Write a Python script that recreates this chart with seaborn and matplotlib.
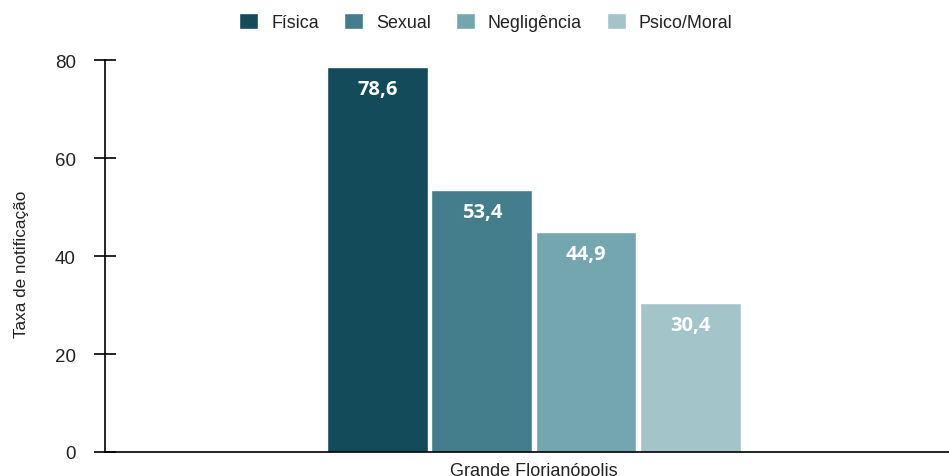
import matplotlib
matplotlib.use("Agg")
import matplotlib.pyplot as plt
import seaborn as sns
import pandas as pd

regions = ["Grande Florianópolis"]
categories = ["Física", "Sexual", "Negligência", "Psico/Moral"]
values = [78.6, 53.4, 44.9, 30.4]
labels = ["78,6", "53,4", "44,9", "30,4"]
colors = ["#134B5A", "#447D8B", "#73A6AF", "#A3C5C9"]

df = pd.DataFrame({"regiao": regions * len(categories), "tipo": categories, "taxa": values})

sns.set_theme(style="white")
plt.rcParams["font.family"] = ["Liberation Sans", "DejaVu Sans"]

fig = plt.figure(figsize=(9.49, 4.77), dpi=100)
ax = fig.add_axes([105 / 949, 1 - 453 / 477, (949 - 105) / 949, (453 - 61) / 477])

sns.barplot(data=df, x="regiao", y="taxa", hue="tipo", hue_order=categories,
            palette=colors, ax=ax, width=0.81, gap=0.035, saturation=1, legend=True)

for cont, lab in zip(ax.containers, labels):
    ax.bar_label(cont, labels=[lab], label_type="edge", padding=-23, color="white",
                 fontsize=14.5, fontweight="bold", family=["Open Sans", "DejaVu Sans"])

ax.set_ylim(0, 80)
ax.set_xlim(-0.833, 0.806)
ax.set_yticks([0, 20, 40, 60, 80])
ax.set_xlabel("")
ax.set_ylabel("Taxa de notificação", fontsize=12.3, color="#222222")
ax.yaxis.set_label_coords(-0.09, 0.48)
ax.tick_params(axis="y", left=True, direction="inout", length=16, width=1.2, color="black",
               labelsize=13.5, labelcolor="#222222", pad=13)
ax.tick_params(axis="x", bottom=False, length=0, labelsize=13, labelcolor="#222222", pad=7)
for s in ["top", "right"]:
    ax.spines[s].set_visible(False)
for s in ["left", "bottom"]:
    ax.spines[s].set_color("black")
    ax.spines[s].set_linewidth(1.2)

leg = ax.legend(loc="center", bbox_to_anchor=(0.5 + (486 - 527) / 844, 1 + (61 - 23) / 392), ncol=4,
                frameon=False, fontsize=12.9, handlelength=1.05, handleheight=1.05,
                columnspacing=1.4, handletextpad=0.73)
for t in leg.get_texts():
    t.set_color("#222222")

fig.savefig("out.png", dpi=100)
